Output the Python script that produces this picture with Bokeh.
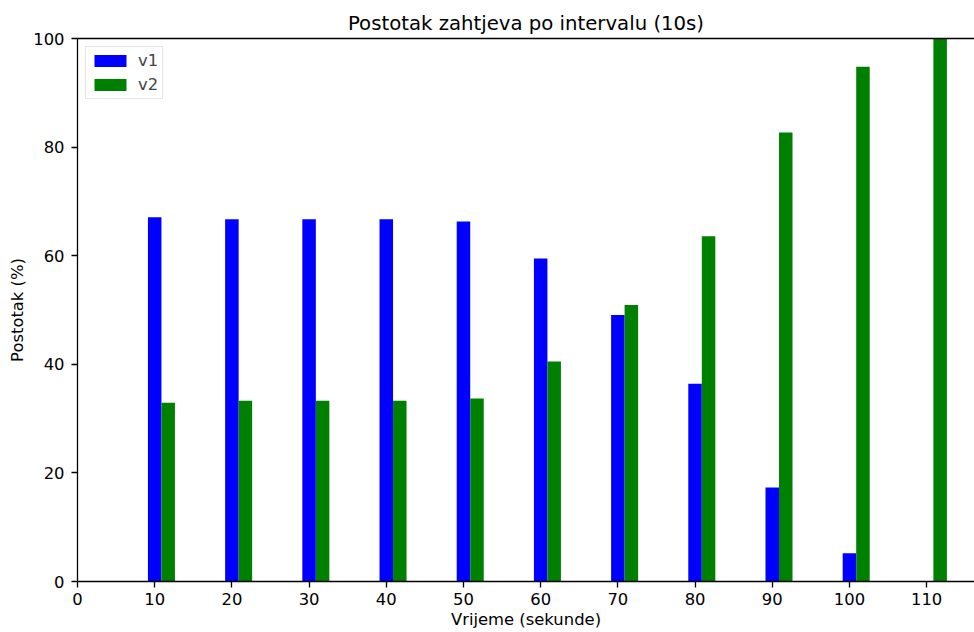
from bokeh.plotting import figure
from bokeh.models import (ColumnDataSource, Range1d, FixedTicker, Legend, LegendItem,
                          LinearAxis)
from bokeh.transform import dodge
from bokeh.embed import file_html
from bokeh.resources import INLINE

intervals = [10, 20, 30, 40, 50, 60, 70, 80, 90, 100, 110]
v1 = [67.1, 66.7, 66.7, 66.7, 66.3, 59.5, 49.1, 36.4, 17.3, 5.2, 0.0]
v2 = [32.9, 33.3, 33.3, 33.3, 33.7, 40.5, 50.9, 63.6, 82.7, 94.8, 100.0]
x_ticks = [0, 10, 20, 30, 40, 50, 60, 70, 80, 90, 100, 110]
y_ticks = [0, 20, 40, 60, 80, 100]
bar_w = 1.75

src = ColumnDataSource(dict(x=intervals, v1=v1, v2=v2))

FONT = "DejaVu Sans"
FS = "16.4px"
p = figure(output_backend="svg", toolbar_location=None,
           frame_width=897, frame_height=543,
           min_border_left=77, min_border_right=0, min_border_top=38, min_border_bottom=46,
           x_range=Range1d(0, 116.2), y_range=Range1d(0, 100),
           title="Postotak zahtjeva po intervalu (10s)")

r1 = p.vbar(x='x', top='v1', width=bar_w, source=src, fill_color="blue", line_color=None)
r2 = p.vbar(x=dodge('x', bar_w), top='v2', width=bar_w, source=src, fill_color="green", line_color=None)

p.title.align = "center"
p.title.offset = 8
p.title.standoff = 7
p.title.text_font = FONT
p.title.text_font_size = "19.7px"
p.title.text_font_style = "normal"
p.title.text_color = "black"

p.xgrid.visible = False
p.ygrid.visible = False
p.outline_line_color = None

xax = p.below[0]
yax = p.left[0]

for ax in (xax, yax):
    ax.major_label_text_font = FONT
    ax.major_label_text_font_size = FS
    ax.major_label_text_color = "black"
    ax.axis_label_text_font = FONT
    ax.axis_label_text_font_size = FS
    ax.axis_label_text_font_style = "normal"
    ax.axis_label_text_color = "black"
    ax.major_tick_in = 0
    ax.major_tick_out = 6
    ax.minor_tick_in = 0
    ax.minor_tick_out = 0
    ax.axis_line_color = "black"
    ax.axis_line_width = 1.3
    ax.major_tick_line_color = "black"
    ax.major_tick_line_width = 1.3

xax.ticker = FixedTicker(ticks=x_ticks)
yax.ticker = FixedTicker(ticks=y_ticks)
xax.axis_label = "Vrijeme (sekunde)"
yax.axis_label = "Postotak (%)"
xax.major_label_standoff = 5
xax.axis_label_standoff = 2
yax.major_label_standoff = 7
yax.axis_label_standoff = 3

# top spine (no right spine visible in the reference)
top_ax = LinearAxis(ticker=FixedTicker(ticks=[]), major_tick_out=0, major_tick_in=0,
                    minor_tick_out=0, minor_tick_in=0, major_label_standoff=0,
                    major_label_text_font_size="0px", axis_line_color="black",
                    axis_line_width=1.3)
p.add_layout(top_ax, "above")

legend = Legend(items=[LegendItem(label="v1", renderers=[r1]),
                       LegendItem(label="v2", renderers=[r2])],
                location="top_left")
legend.label_text_font = FONT
legend.label_text_font_size = FS
legend.glyph_width = 40
legend.glyph_height = 15
legend.label_standoff = 8
legend.spacing = 5
legend.padding = 4
legend.margin = 8
legend.border_line_color = "#cccccc"
legend.border_line_width = 1
legend.label_height = 16
p.add_layout(legend)

open("out.html", "w").write(file_html(p, INLINE))
